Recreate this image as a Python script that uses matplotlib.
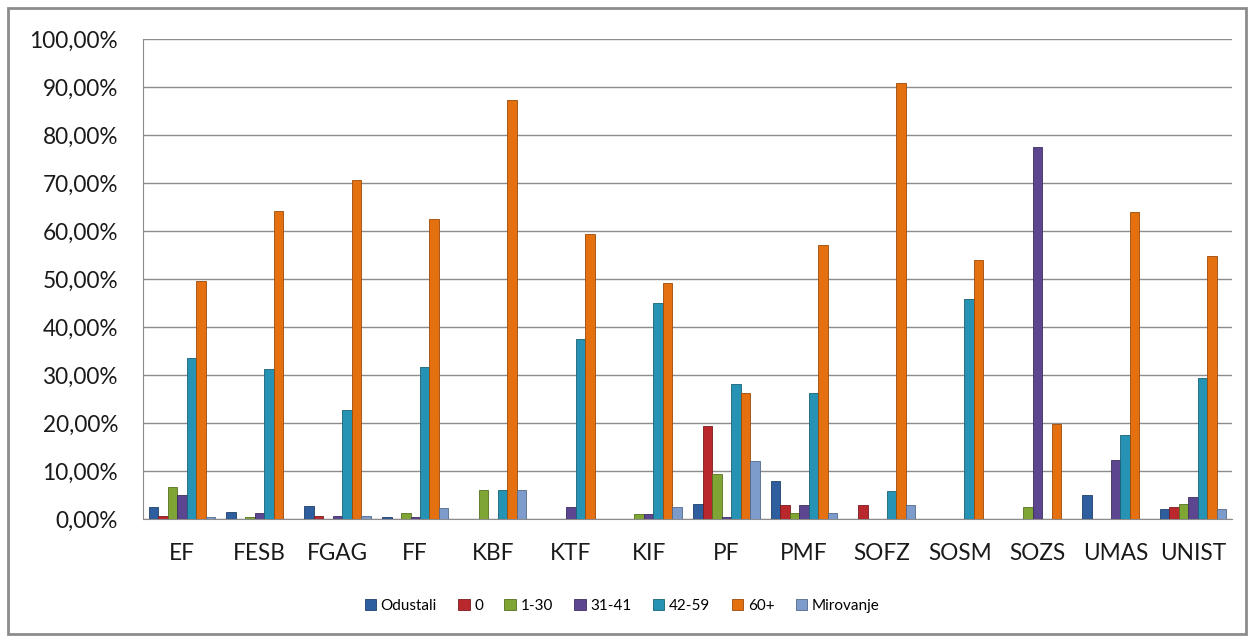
import matplotlib
matplotlib.use("Agg")
import matplotlib.pyplot as plt
import numpy as np
from matplotlib.ticker import FuncFormatter
from matplotlib.patches import Rectangle

categories = ["EF", "FESB", "FGAG", "FF", "KBF", "KTF", "KIF", "PF", "PMF",
              "SOFZ", "SOSM", "SOZS", "UMAS", "UNIST"]
series_names = ["Odustali", "0", "1-30", "31-41", "42-59", "60+", "Mirovanje"]

odustali  = [2.6, 1.5, 2.8, 0.5, 0.0, 0.0, 0.0, 3.2, 8.0, 0.0, 0.0, 0.0, 5.0, 2.15]
nula      = [0.7, 0.0, 0.7, 0.0, 0.0, 0.0, 0.0, 19.4, 2.9, 2.9, 0.0, 0.0, 0.0, 2.6]
s1_30     = [6.6, 0.35, 0.0, 1.2, 6.0, 0.0, 1.0, 9.4, 1.3, 0.0, 0.0, 2.4, 0.0, 3.1]
s31_41    = [5.0, 1.25, 0.7, 0.5, 0.0, 2.4, 1.0, 0.5, 2.9, 0.0, 0.0, 77.4, 12.3, 4.65]
s42_59    = [33.5, 31.2, 22.8, 31.7, 6.0, 37.6, 45.1, 28.2, 26.2, 5.9, 45.8, 0.0, 17.6, 29.3]
s60plus   = [49.6, 64.2, 70.7, 62.4, 87.3, 59.3, 49.1, 26.2, 57.1, 90.8, 54.0, 19.7, 64.0, 54.7]
mirovanje = [0.35, 0.0, 0.6, 2.2, 6.0, 0.0, 2.4, 12.0, 1.3, 2.9, 0.0, 0.0, 0.0, 2.15]

series = [odustali, nula, s1_30, s31_41, s42_59, s60plus, mirovanje]
colors = ["#2F5E9E", "#B8282C", "#7FA535", "#5D4690", "#2693B4", "#E4700F", "#7D9BCB"]
edges = ["#1F3F6A", "#7A1A1D", "#56701F", "#3D2D60", "#176278", "#9A4A08", "#53688A"]

fig = plt.figure(figsize=(12.52, 6.4), dpi=100)
W, H = 1252, 640
ax = fig.add_axes([143 / W, 1 - 519 / H, (1232 - 143) / W, (519 - 39) / H])

font = "Lato"
x = np.arange(len(categories))
bw = 0.122
for i, (vals, c, ec) in enumerate(zip(series, colors, edges)):
    ax.bar(x + (i - 3) * bw, vals, width=bw, color=c, edgecolor=ec,
           linewidth=0.6, label=series_names[i], zorder=3)

ax.set_xlim(-0.5, len(categories) - 0.5)
ax.set_ylim(0, 100)
ax.set_yticks(np.arange(0, 101, 10))
ax.yaxis.set_major_formatter(FuncFormatter(lambda v, p: f"{v:.2f}%".replace(".", ",")))
ax.grid(axis="y", color="#8C8C8C", linewidth=1.0, zorder=0)
ax.set_xticks(x)
ax.set_xticklabels(categories)
for lab in ax.get_xticklabels() + ax.get_yticklabels():
    lab.set_fontfamily(font)
    lab.set_fontsize(16.3)
    lab.set_color("#1A1A1A")
ax.tick_params(axis="both", length=0)
ax.tick_params(axis="y", pad=18)
ax.tick_params(axis="x", pad=17)
for s in ["top", "right"]:
    ax.spines[s].set_visible(False)
ax.spines["left"].set_color("#8C8C8C")
ax.spines["bottom"].set_color("#8C8C8C")

leg = fig.legend(loc="center", bbox_to_anchor=(622 / W, 1 - 606 / H), ncol=7,
                 frameon=False, prop={"family": font, "size": 11},
                 handlelength=0.75, handleheight=0.75, handletextpad=0.3,
                 columnspacing=1.4)

fig.patches.append(Rectangle((8 / W, 1 - 634 / H), (1246 - 8) / W, (634 - 8) / H,
                             transform=fig.transFigure, fill=False,
                             edgecolor="#8C8C8C", linewidth=2))

fig.savefig("out.png", dpi=100)
